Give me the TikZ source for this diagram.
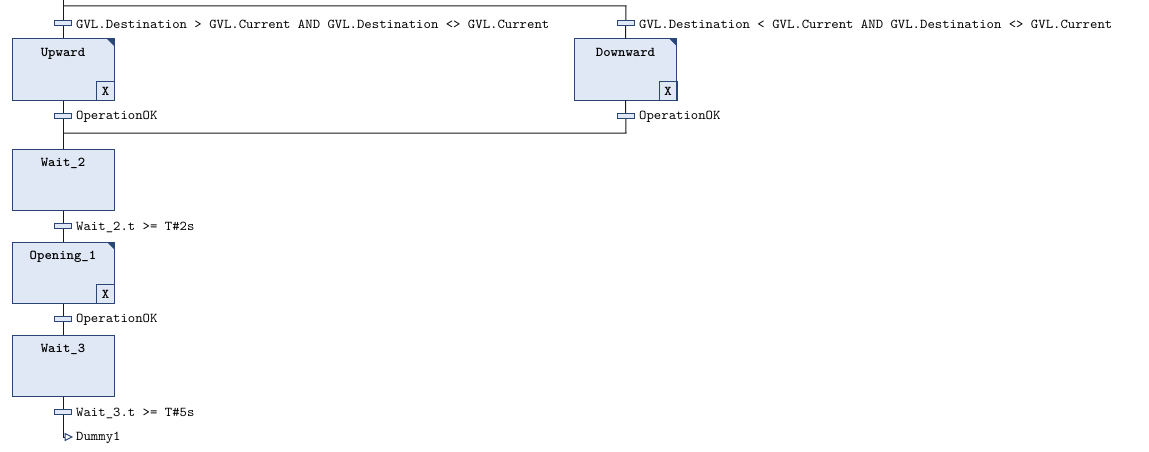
\documentclass[tikz,border=0pt]{standalone}
\usepackage{fontspec}
\setmonofont{lmmono10-regular}[Extension=.otf, BoldFont=lmmonolt10-bold, FakeStretch=1.043]
\definecolor{stepfill}{HTML}{E0E8F6}
\definecolor{stepdraw}{HTML}{2A4676}
\definecolor{wire}{HTML}{1A1A1A}
\tikzset{
  every node/.style={font=\fontsize{13.5}{15}\selectfont\ttfamily, text=black},
  stepbox/.style={rectangle, draw=stepdraw, fill=stepfill, line width=1pt,
    minimum width=102pt, minimum height=61pt, inner sep=0pt},
  stepname/.style={anchor=north, yshift=-9.5pt, inner sep=0pt, font=\fontsize{13.5}{15}\selectfont\ttfamily\bfseries},
  trans/.style={rectangle, draw=stepdraw, fill=stepfill, line width=1pt,
    minimum width=17pt, minimum height=5pt, inner sep=0pt},
  translabel/.style={anchor=west, inner sep=0pt, xshift=4pt, yshift=-1pt},
  wireline/.style={draw=wire, line width=1pt},
}
\newcommand{\actmark}[1]{%
  \fill[stepdraw] ([xshift=-0.5pt,yshift=-0.5pt]#1.north east) -- ++(-7pt,0) -- ++(7pt,-7pt) -- cycle;
  \draw[stepdraw, line width=1pt] ([xshift=-18pt]#1.south east) rectangle ([yshift=19pt]#1.south east);
  \node[font=\fontsize{13.5}{15}\selectfont\ttfamily\bfseries, inner sep=0pt] at ([xshift=-9pt,yshift=9.5pt]#1.south east) {X};
}
\begin{document}
\begin{tikzpicture}[x=1pt,y=-1pt]
\useasboundingbox (0,0) rectangle (1149,452);
% coordinates
\coordinate (top) at (63,0);
\coordinate (splitL) at (63,6);
\coordinate (splitR) at (626,6);
\coordinate (joinL) at (63,133);
\coordinate (joinR) at (626,133);
\coordinate (jend) at (63,437);
\coordinate (jtip) at (65,437);
% steps
\node[stepbox] (up) at (63,69.5) {};
\node[stepbox] (down) at (625.5,69.5) {};
\node[stepbox] (w2) at (63,179.5) {};
\node[stepbox] (op1) at (63,272.5) {};
\node[stepbox] (w3) at (63,365.5) {};
% wires
\draw[wireline] (top) -- (up.north);
\draw[wireline] (splitL) -- (splitR) -- (down.north);
\draw[wireline] (up.south) -- (w2.north);
\draw[wireline] (down.south) -- (joinR) -- (joinL);
\draw[wireline] (w2.south) -- (op1.north);
\draw[wireline] (op1.south) -- (w3.north);
\draw[wireline] (w3.south) -- (jend) -- (jtip);
% step names
\node[stepname] at (up.north) {Upward};
\node[stepname] at (down.north) {Downward};
\node[stepname] at (w2.north) {Wait\_2};
\node[stepname] at (op1.north) {Opening\_1};
\node[stepname] at (w3.north) {Wait\_3};
\actmark{up}
\actmark{down}
\actmark{op1}
% transitions
\node[trans] (t1) at (63,23) {};
\node[translabel] at (t1.east) {GVL.Destination > GVL.Current AND GVL.Destination <> GVL.Current};
\node[trans] (t2) at (626,23) {};
\node[translabel] at (t2.east) {GVL.Destination < GVL.Current AND GVL.Destination <> GVL.Current};
\node[trans] (t3) at (63,116) {};
\node[translabel] at (t3.east) {OperationOK};
\node[trans] (t4) at (626,116) {};
\node[translabel] at (t4.east) {OperationOK};
\node[trans] (t5) at (63,226) {};
\node[translabel] at (t5.east) {Wait\_2.t >= T\#2s};
\node[trans] (t6) at (63,319) {};
\node[translabel] at (t6.east) {OperationOK};
\node[trans] (t7) at (63,412) {};
\node[translabel] at (t7.east) {Wait\_3.t >= T\#5s};
% jump
\draw[stepdraw, line width=1pt, fill=white] (jtip) ++(0,-3.5) -- ++(7,3.5) -- ++(-7,3.5) -- cycle;
\node[anchor=west, inner sep=0pt, yshift=-1pt] (jlab) at (76,437) {Dummy1};
\end{tikzpicture}
\end{document}
